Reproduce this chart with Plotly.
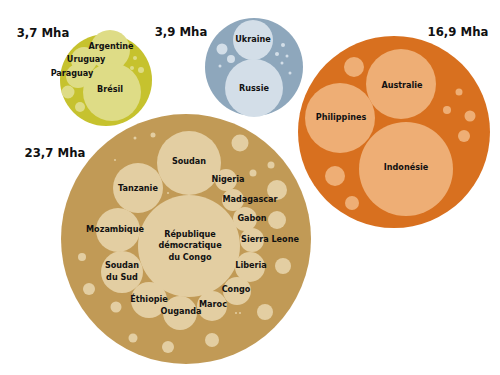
import plotly.graph_objects as go

# ---- data ----
groups = ["Amérique du Sud", "Europe de l'Est", "Asie-Océanie", "Afrique"]
group_totals = ["3,7 Mha", "3,9 Mha", "16,9 Mha", "23,7 Mha"]
group_cx = [106, 254, 394, 186]
group_cy = [80, 67, 132, 239]
group_r = [46, 49, 96, 125]
total_x = [43, 181, 458, 55]
total_y = [34, 33, 33, 154]

outer_colors = ["#c6c22e", "#8ea7bc", "#d8701f", "#c19a56"]
inner_colors = ["#dedc86", "#d3dee8", "#eeae75", "#e3cea2"]

# named countries
country_names = ["Argentine", "Uruguay", "Paraguay", "Brésil",
                 "Ukraine", "Russie",
                 "Australie", "Philippines", "Indonésie",
                 "République<br>démocratique<br>du Congo", "Soudan", "Tanzanie",
                 "Mozambique", "Soudan<br>du Sud", "Éthiopie", "Ouganda", "Maroc",
                 "Congo", "Liberia", "Sierra Leone", "Gabon", "Madagascar", "Nigeria"]
country_group = [0, 0, 0, 0, 1, 1, 2, 2, 2,
                 3, 3, 3, 3, 3, 3, 3, 3, 3, 3, 3, 3, 3, 3]
country_cx = [110, 84, 78, 112,
              253, 254,
              401, 340, 406,
              189, 189, 138, 118, 122, 149, 180, 212, 237, 250, 252, 245, 233, 226]
country_cy = [50, 60, 76, 92,
              40, 88,
              84, 118, 169,
              246, 163, 188, 230, 272, 300, 313, 306, 291, 267, 240, 219, 200, 180]
country_r = [20, 13, 12, 29,
             20, 29,
             35, 35, 47,
             51, 32, 25, 22, 21, 18, 17, 15, 14, 15, 12, 12, 11, 11]
label_x = [111, 86, 72, 110,
           253, 254,
           402, 341, 406,
           190, 189, 138, 115, 122, 149, 181, 213, 236, 251, 270, 252, 250, 228]
label_y = [47, 60, 74, 90,
           40, 89,
           86, 118, 168,
           246, 162, 189, 230, 272, 300, 312, 305, 290, 266, 240, 219, 200, 180]

# small unnamed countries
small_group = [0, 0, 0, 0, 0,
               1, 1, 1, 1, 1, 1, 1, 1,
               2, 2, 2, 2, 2, 2, 2,
               3, 3, 3, 3, 3, 3, 3, 3, 3, 3, 3, 3, 3, 3, 3, 3, 3, 3, 3]
small_cx = [68, 80, 135, 132, 141,
            222, 231, 220, 283, 277, 287, 282, 290,
            354, 459, 447, 470, 464, 335, 352,
            240, 271, 253, 277, 277, 283, 265, 212, 168, 133, 116, 89, 82,
            135, 153, 115, 168, 236, 240]
small_cy = [92, 107, 58, 68, 70,
            49, 59, 66, 45, 54, 56, 63, 73,
            67, 92, 110, 116, 136, 176, 203,
            143, 165, 173, 190, 220, 266, 312, 340, 347, 338, 307, 289, 257,
            138, 135, 160, 193, 313, 313]
small_r = [6.5, 5, 2, 2, 3,
           5.5, 4, 1.5, 2, 2, 1.5, 1.5, 1.5,
           10, 3.5, 4, 5.5, 6, 10, 7,
           8.5, 3.5, 3.5, 10, 9, 8, 8, 7, 6, 4.5, 5.5, 6, 4,
           1.5, 2.5, 1, 1, 1, 1]

FONT = "DejaVu Sans Condensed, Liberation Sans Narrow, sans-serif"

shapes = []
for i in range(len(groups)):
    shapes.append(dict(type="circle", xref="x", yref="y",
                       x0=group_cx[i] - group_r[i], x1=group_cx[i] + group_r[i],
                       y0=group_cy[i] - group_r[i], y1=group_cy[i] + group_r[i],
                       fillcolor=outer_colors[i], line=dict(width=0), layer="below"))
for g, cx, cy, r in zip(small_group, small_cx, small_cy, small_r):
    shapes.append(dict(type="circle", xref="x", yref="y",
                       x0=cx - r, x1=cx + r, y0=cy - r, y1=cy + r,
                       fillcolor=inner_colors[g], line=dict(width=0), layer="below"))
for g, cx, cy, r in zip(country_group, country_cx, country_cy, country_r):
    shapes.append(dict(type="circle", xref="x", yref="y",
                       x0=cx - r, x1=cx + r, y0=cy - r, y1=cy + r,
                       fillcolor=inner_colors[g], line=dict(width=0), layer="below"))

fig = go.Figure()
fig.add_trace(go.Scatter(
    x=label_x, y=label_y, mode="text", text=["<b>%s</b>" % n for n in country_names],
    textposition="middle center",
    textfont=dict(family=FONT, size=9, color="#111111"),
    hoverinfo="skip", showlegend=False))
fig.add_trace(go.Scatter(
    x=total_x, y=total_y, mode="text", text=["<b>%s</b>" % t for t in group_totals],
    textposition="middle center",
    textfont=dict(family=FONT, size=13, color="#111111"),
    hoverinfo="skip", showlegend=False))

fig.update_layout(
    width=500, height=375, margin=dict(l=0, r=0, t=0, b=0),
    paper_bgcolor="white", plot_bgcolor="white",
    shapes=shapes,
    xaxis=dict(range=[0, 500], visible=False, fixedrange=True),
    yaxis=dict(range=[375, 0], visible=False, fixedrange=True),
)
fig.write_html("out.html")
